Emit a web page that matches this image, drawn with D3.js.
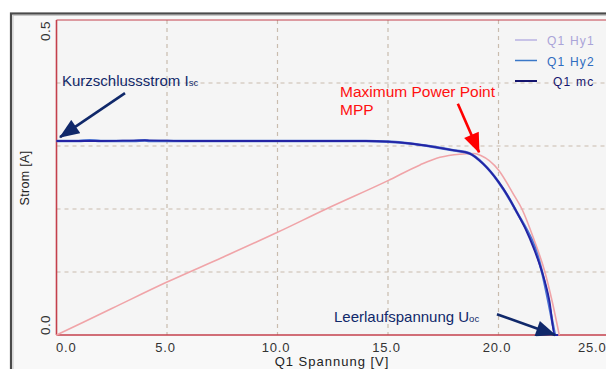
<!DOCTYPE html>
<html><head><meta charset="utf-8">
<script src="https://cdn.jsdelivr.net/npm/d3@7"></script>
<style>
html,body{margin:0;padding:0;background:#fff;}
svg{display:block;font-family:"Liberation Sans",Arial,sans-serif;}
</style></head>
<body><svg id="c" width="606" height="369"></svg>
<script>
// ---- data ----
const xTicks = [0, 5, 10, 15, 20, 25];
const yTickLabels = [0.0, 0.5];
const yGrid = [0.1, 0.2, 0.3, 0.4];
const xGrid = [5, 10, 15, 20];

// Q1 mc (I-V curve)
const mcV = [0, 2, 4, 6, 8, 10, 12, 14, 15, 16, 17, 18, 18.7, 19.3, 20, 20.4, 20.75, 21.2, 21.6, 21.97, 22.3, 22.55, 22.7];
const mcI = [0.308, 0.308, 0.309, 0.308, 0.308, 0.308, 0.308, 0.308, 0.307, 0.304, 0.299, 0.293, 0.288, 0.272, 0.243, 0.222, 0.200, 0.170, 0.137, 0.100, 0.055, 0.0, 0.0];
// Q1 Hy2 (nearly identical, mostly hidden below mc)
const hy2V = [0, 1, 1.5, 2, 3.5, 4, 4.2, 5, 10, 14, 15, 16, 17, 18, 18.7, 19.3, 20, 20.75, 21.97, 22.55];
const hy2I = [0.308, 0.308, 0.309, 0.308, 0.308, 0.309, 0.308, 0.308, 0.308, 0.308, 0.307, 0.304, 0.299, 0.293, 0.288, 0.272, 0.243, 0.200, 0.100, 0.0];
// pink curve
const pV = [0, 2.5, 5, 7.5, 10, 12.2, 15, 16.45, 17.35, 18.25, 18.9, 19.2, 20, 20.7, 21.06, 21.6, 22.1, 22.45, 22.75];
const pI = [0, 0.042, 0.084, 0.123, 0.163, 0.200, 0.245, 0.270, 0.282, 0.287, 0.288, 0.285, 0.262, 0.222, 0.200, 0.152, 0.100, 0.050, 0.0];

const legendNames = ["Q1 Hy1", "Q1 Hy2", "Q1 mc"];
const legendColors = ["#b9b2e2", "#3a78c8", "#14146e"];
const legendTextColors = ["#aaa4d8", "#2f6cc0", "#14146e"];

// annotation arrows in data units
const annIsc = {from: [3.1, 0.384], to: [0.16, 0.314]};
const annMpp = {from: [18.16, 0.367], to: [19.12, 0.290]};
const annUoc = {from: [19.93, 0.033], to: [22.56, 0.0]};

// ---- drawing ----
const svg = d3.select("#c");
const x = d3.scaleLinear().domain([0, 25]).range([56.5, 609]);
const y = d3.scaleLinear().domain([0, 0.5]).range([335, 20]);

// outer frame
svg.append("rect").attr("x", 11).attr("y", 13.5).attr("width", 640).attr("height", 400)
  .attr("fill", "#f8f8f8").attr("stroke", "#4a4a4a").attr("stroke-width", 2.2);
svg.append("rect").attr("x", 13).attr("y", 15.5).attr("width", 640).attr("height", 400)
  .attr("fill", "none").attr("stroke", "#c8c8c8").attr("stroke-width", 1);

// plot area
svg.append("rect").attr("x", x(0)).attr("y", y(0.5)).attr("width", 700).attr("height", y(0) - y(0.5))
  .attr("fill", "#f5f5f5");

// grid
const gridColor = "#c9bcae";
svg.append("g").selectAll("line").data(xGrid).join("line")
  .attr("x1", d => x(d)).attr("x2", d => x(d)).attr("y1", y(0.5)).attr("y2", y(0))
  .attr("stroke", gridColor).attr("stroke-width", 1.2).attr("stroke-dasharray", "4,4");
svg.append("g").selectAll("line").data(yGrid).join("line")
  .attr("x1", x(0)).attr("x2", 606).attr("y1", d => y(d)).attr("y2", d => y(d))
  .attr("stroke", gridColor).attr("stroke-width", 1.2).attr("stroke-dasharray", "4,4");

// axis lines (red)
const axColor = "#c4404c";
svg.append("line").attr("x1", x(0)).attr("x2", 606).attr("y1", y(0)).attr("y2", y(0)).attr("stroke", axColor).attr("stroke-width", 1.6);
svg.append("line").attr("x1", x(0)).attr("x2", 606).attr("y1", y(0.5)).attr("y2", y(0.5)).attr("stroke", axColor).attr("stroke-width", 1.2);
svg.append("line").attr("x1", x(0)).attr("x2", x(0)).attr("y1", y(0.5)).attr("y2", y(0)).attr("stroke", axColor).attr("stroke-width", 1.6);

// x tick labels
const last = xTicks[xTicks.length - 1];
const xAxis = d3.axisBottom(x).tickValues(xTicks).tickFormat(d3.format(".1f")).tickSize(0).tickPadding(0);
const gx = svg.append("g").attr("transform", `translate(0,${y(0)})`).call(xAxis);
gx.select(".domain").remove();
gx.selectAll("text").attr("y", 16.5).attr("dy", 0).attr("font-size", 13).attr("fill", "#333")
  .attr("letter-spacing", 0.8).attr("font-family", "Liberation Sans, Arial, sans-serif")
  .attr("text-anchor", d => d === 0 ? "start" : (d === last ? "end" : "middle"))
  .attr("x", d => d === 0 ? -1 : (d === last ? -3 : -2));

// y tick labels (rotated)
svg.append("g").selectAll("text").data(yTickLabels).join("text")
  .attr("transform", d => `translate(50,${d === 0 ? y(d) : y(d) + 1}) rotate(-90)`)
  .attr("text-anchor", d => d === 0 ? "start" : "end")
  .attr("font-size", 13.5).attr("fill", "#333").attr("letter-spacing", 0.4)
  .text(d => d3.format(".1f")(d));

// axis titles
svg.append("text").attr("x", 332).attr("y", 366).attr("text-anchor", "middle")
  .attr("font-size", 13).attr("fill", "#222").attr("letter-spacing", 1).text("Q1 Spannung [V]");
svg.append("text").attr("transform", "translate(29,178) rotate(-90)").attr("text-anchor", "middle")
  .attr("font-size", 12.5).attr("fill", "#222").attr("letter-spacing", 0.3).text("Strom [A]");

// curves
const line = d3.line().x(d => x(d[0])).y(d => y(d[1])).curve(d3.curveMonotoneX);
svg.append("path").datum(d3.zip(pV, pI)).attr("d", line)
  .attr("fill", "none").attr("stroke", "#f0a4a8").attr("stroke-width", 1.6);
svg.append("path").datum(d3.zip(hy2V, hy2I)).attr("d", line)
  .attr("fill", "none").attr("stroke", "#4a70d0").attr("stroke-width", 2.6);
svg.append("path").datum(d3.zip(mcV, mcI)).attr("d", line)
  .attr("fill", "none").attr("stroke", "#2424a4").attr("stroke-width", 1.9);

// legend
const lg = svg.append("g");
legendNames.forEach((n, i) => {
  const ly = 40 + i * 20.5;
  lg.append("line").attr("x1", 515).attr("x2", 537).attr("y1", ly).attr("y2", ly)
    .attr("stroke", legendColors[i]).attr("stroke-width", i === 2 ? 2 : 1.5);
  lg.append("text").attr("x", i === 2 ? 553 : 547).attr("y", ly + 5).attr("font-size", 12)
    .attr("letter-spacing", 1.2).attr("fill", legendTextColors[i])
    .text(n);
});

// arrow markers
const defs = svg.append("defs");
function marker(id, color) {
  defs.append("marker").attr("id", id).attr("viewBox", "0 0 20 16").attr("refX", 19).attr("refY", 8)
    .attr("markerWidth", 21).attr("markerHeight", 16).attr("markerUnits", "userSpaceOnUse").attr("orient", "auto")
    .append("path").attr("d", "M0,0 L20,8 L0,16 Z").attr("fill", color);
}
marker("an", "#10286a");
marker("ar", "#ff0000");
function arrow(a, color, id) {
  svg.append("line").attr("x1", x(a.from[0])).attr("y1", y(a.from[1]))
    .attr("x2", x(a.to[0])).attr("y2", y(a.to[1]))
    .attr("stroke", color).attr("stroke-width", 2.6).attr("marker-end", `url(#${id})`);
}
arrow(annIsc, "#10286a", "an");
arrow(annMpp, "#ff0000", "ar");
arrow(annUoc, "#10286a", "an");

// annotation texts
const t1 = svg.append("text").attr("x", 62).attr("y", 86).attr("font-size", 15).attr("fill", "#10286a");
t1.append("tspan").text("Kurzschlussstrom I");
t1.append("tspan").attr("font-size", 9.5).text("sc");

svg.append("text").attr("x", 340).attr("y", 97).attr("font-size", 15.5).attr("fill", "#ff1010").text("Maximum Power Point");
svg.append("text").attr("x", 340).attr("y", 115).attr("font-size", 15.5).attr("fill", "#ff1010").text("MPP");

const t3 = svg.append("text").attr("x", 334).attr("y", 322).attr("font-size", 15).attr("fill", "#10286a");
t3.append("tspan").text("Leerlaufspannung U");
t3.append("tspan").attr("font-size", 9.5).text("oc");
</script></body></html>
